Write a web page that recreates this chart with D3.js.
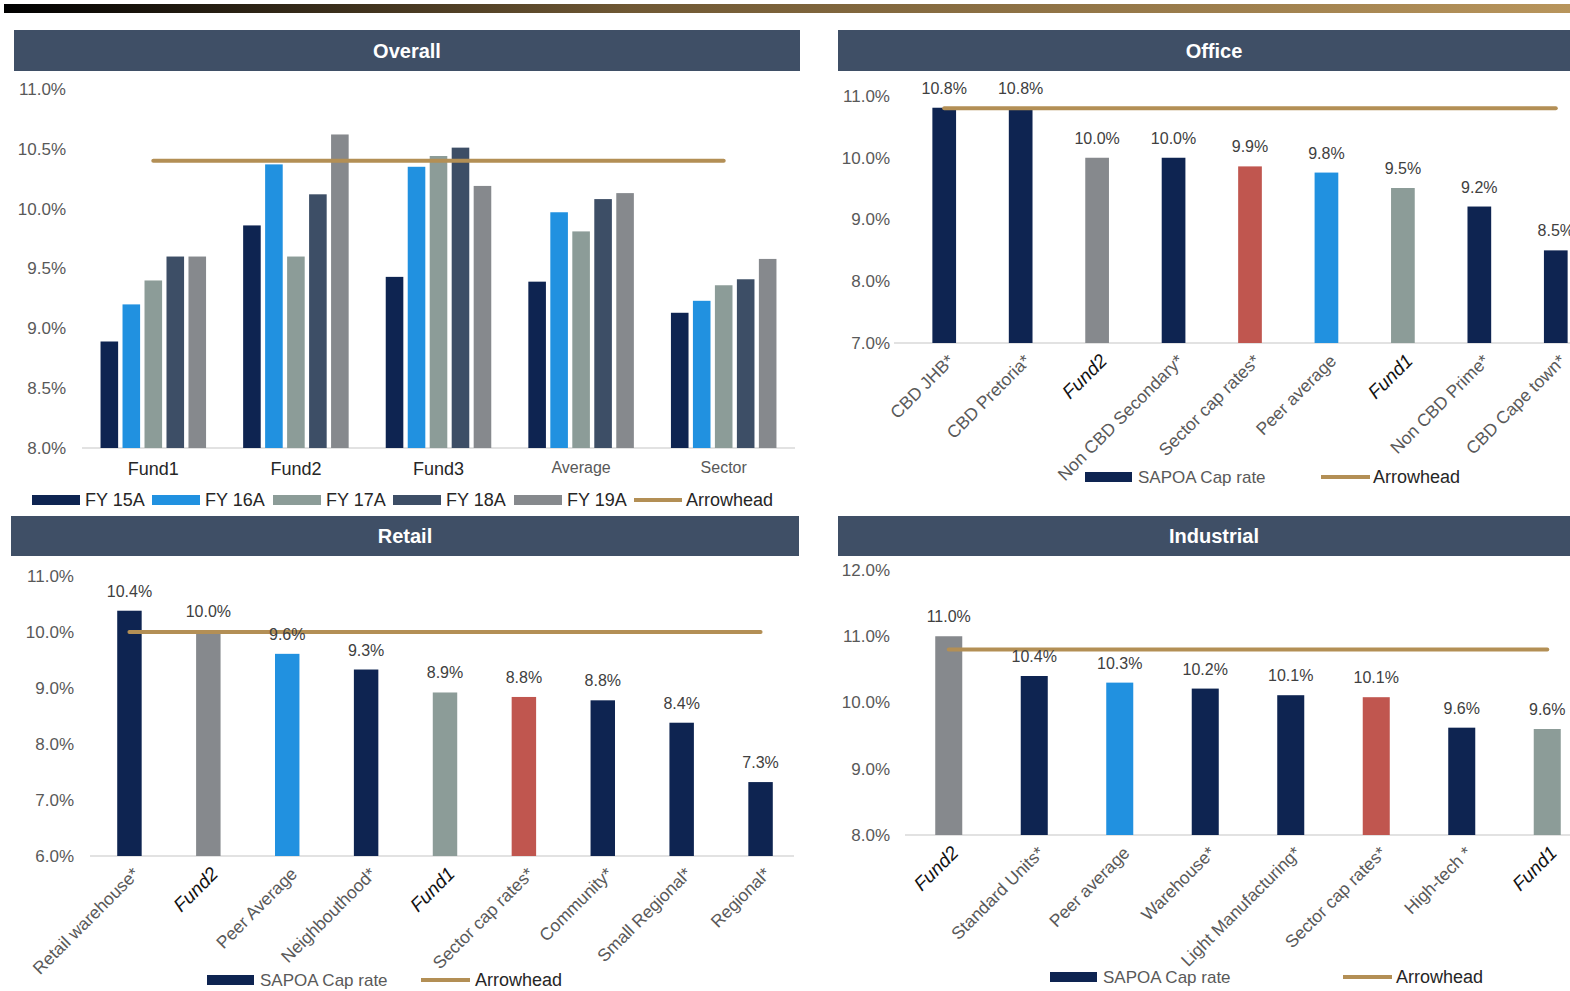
<!DOCTYPE html>
<html>
<head>
<meta charset="utf-8">
<script src="https://cdn.jsdelivr.net/npm/d3@7"></script>
<style>
  body { margin: 0; background: #fff; }
  svg { display: block; font-family: 'Liberation Sans', Arial, sans-serif; }
</style>
</head>
<body>
<svg width="1570" height="991"></svg>
<script>
    // ---- data ----
    const overallCategories = ['Fund1', 'Fund2', 'Fund3', 'Average', 'Sector'];
    const overallSeries = ['FY 15A', 'FY 16A', 'FY 17A', 'FY 18A', 'FY 19A'];
    const fy15 = [8.89, 9.86, 9.43, 9.39, 9.13];
    const fy16 = [9.20, 10.37, 10.35, 9.97, 9.23];
    const fy17 = [9.40, 9.60, 10.44, 9.81, 9.36];
    const fy18 = [9.60, 10.12, 10.51, 10.08, 9.41];
    const fy19 = [9.60, 10.62, 10.19, 10.13, 9.58];
    const overallArrowhead = 10.4;
    const overallTicks = [8.0, 8.5, 9.0, 9.5, 10.0, 10.5, 11.0];

    const officeCategories = ['CBD JHB*', 'CBD Pretoria*', 'Fund2', 'Non CBD Secondary*', 'Sector cap rates*', 'Peer average', 'Fund1', 'Non CBD Prime*', 'CBD Cape town*'];
    const officeValues = [10.81, 10.80, 10.00, 10.00, 9.86, 9.76, 9.51, 9.21, 8.50];
    const officeArrowhead = 10.8;
    const officeTicks = [7, 8, 9, 10, 11];

    const retailCategories = ['Retail warehouse*', 'Fund2', 'Peer  Average', 'Neighbouthood*', 'Fund1', 'Sector cap rates*', 'Community*', 'Small Regional*', 'Regional*'];
    const retailValues = [10.38, 10.02, 9.61, 9.33, 8.92, 8.84, 8.78, 8.38, 7.32];
    const retailArrowhead = 10.0;
    const retailTicks = [6, 7, 8, 9, 10, 11];

    const industrialCategories = ['Fund2', 'Standard Units*', 'Peer average', 'Warehouse*', 'Light Manufacturing*', 'Sector cap rates*', 'High-tech *', 'Fund1'];
    const industrialValues = [11.0, 10.40, 10.30, 10.21, 10.11, 10.08, 9.62, 9.60];
    const industrialArrowhead = 10.8;
    const industrialTicks = [8, 9, 10, 11, 12];

    // ---- styles ----
    const seriesColors = ['#0e2451', '#2191e0', '#8c9c98', '#3d4e66', '#86898d'];
    const gold = '#b38f55';
    const headerFill = '#3f4f66';
    const textGrey = '#595959';

    function barColor(name) {
      if (name === 'Fund2') return '#86898d';
      if (name === 'Fund1') return '#8c9c98';
      if (name.toLowerCase().indexOf('peer') === 0) return '#2191e0';
      if (name.indexOf('Sector cap') === 0) return '#c0564f';
      return '#0e2451';
    }
    const isFund = name => name.indexOf('Fund') === 0;
    const pct = v => v.toFixed(1) + '%';

    const svg = d3.select('svg');

    // top gradient bar
    const grad = svg.append('defs').append('linearGradient').attr('id', 'topbar');
    grad.append('stop').attr('offset', '0%').attr('stop-color', '#000000');
    grad.append('stop').attr('offset', '40%').attr('stop-color', '#6f5834');
    grad.append('stop').attr('offset', '100%').attr('stop-color', '#b8955c');
    svg.append('rect')
      .attr('x', 4).attr('y', 4)
      .attr('width', 1566).attr('height', 9)
      .attr('fill', 'url(#topbar)');

    // panel headers
    function header(x, y, w, h, label) {
      svg.append('rect')
        .attr('x', x).attr('y', y)
        .attr('width', w).attr('height', h)
        .attr('fill', headerFill);
      svg.append('text')
        .attr('x', x + w / 2).attr('y', y + h / 2)
        .attr('dy', '0.35em')
        .attr('text-anchor', 'middle')
        .attr('fill', '#fff')
        .attr('font-size', 20)
        .attr('font-weight', 'bold')
        .text(label);
    }
    header(14, 30, 786, 41, 'Overall');
    header(838, 30, 752, 41, 'Office');
    header(11, 516, 788, 40, 'Retail');
    header(838, 516, 752, 40, 'Industrial');

    function yAxis(yScale, x, ticks) {
      const g = svg.append('g')
        .attr('transform', 'translate(' + x + ',0)')
        .call(d3.axisLeft(yScale).tickValues(ticks).tickSize(0).tickPadding(16).tickFormat(pct));
      g.select('.domain').remove();
      g.selectAll('text')
        .attr('font-size', 17)
        .attr('fill', textGrey)
        .attr('font-family', 'Liberation Sans, Arial, sans-serif');
    }

    function legend(x, y, lineX, lineLabelX) {
      const g = svg.append('g').attr('font-size', 18).attr('fill', '#262626');
      g.append('rect').attr('x', x).attr('y', y - 5).attr('width', 47).attr('height', 10).attr('fill', '#0e2451');
      g.append('text').attr('x', x + 53).attr('y', y).attr('dy', '0.35em').attr('font-size', 17).attr('fill', textGrey).text('SAPOA Cap rate');
      g.append('line').attr('x1', lineX).attr('x2', lineX + 49).attr('y1', y).attr('y2', y)
        .attr('stroke', gold).attr('stroke-width', 4);
      g.append('text').attr('x', lineLabelX).attr('y', y).attr('dy', '0.35em').text('Arrowhead');
    }

    // ---- single series panels ----
    function barPanel(opts) {
      const x = d3.scaleBand()
        .domain(opts.categories)
        .range(opts.xRange)
        .paddingInner(opts.pad)
        .paddingOuter(opts.pad / 2);
      const y = d3.scaleLinear()
        .domain(d3.extent(opts.ticks))
        .range(opts.yRange);

      yAxis(y, opts.xRange[0], opts.ticks);

      // baseline
      svg.append('line')
        .attr('x1', opts.baseline[0]).attr('x2', opts.baseline[1])
        .attr('y1', y(opts.ticks[0])).attr('y2', y(opts.ticks[0]))
        .attr('stroke', '#d9d9d9').attr('stroke-width', 1.5);

      const data = opts.categories.map((c, i) => ({ name: c, value: opts.values[i] }));

      svg.append('g').selectAll('rect')
        .data(data).enter().append('rect')
        .attr('x', d => x(d.name))
        .attr('y', d => y(d.value))
        .attr('width', x.bandwidth())
        .attr('height', d => y(opts.ticks[0]) - y(d.value))
        .attr('fill', d => barColor(d.name));

      // arrowhead line
      svg.append('line')
        .attr('x1', x(opts.categories[0]) + x.bandwidth() / 2)
        .attr('x2', x(opts.categories[opts.categories.length - 1]) + x.bandwidth() / 2)
        .attr('y1', y(opts.arrowhead)).attr('y2', y(opts.arrowhead))
        .attr('stroke', gold).attr('stroke-width', 4).attr('stroke-linecap', 'round');

      // value labels
      svg.append('g').selectAll('text')
        .data(data).enter().append('text')
        .attr('x', d => x(d.name) + x.bandwidth() / 2)
        .attr('y', d => y(d.value) - 14)
        .attr('text-anchor', 'middle')
        .attr('font-size', 16)
        .attr('fill', '#404040')
        .text(d => pct(d.value));

      // rotated category labels
      const ax = svg.append('g')
        .attr('transform', 'translate(0,' + y(opts.ticks[0]) + ')')
        .call(d3.axisBottom(x).tickSize(0));
      ax.select('.domain').remove();
      ax.selectAll('text')
        .attr('font-family', 'Liberation Sans, Arial, sans-serif')
        .attr('text-anchor', 'end')
        .attr('dy', 0)
        .attr('y', 0)
        .attr('transform', 'translate(11,19) rotate(-45)')
        .attr('font-size', d => isFund(d) ? 19 : 17.5)
        .attr('font-style', d => isFund(d) ? 'italic' : 'normal')
        .attr('fill', d => isFund(d) ? '#111' : textGrey);
    }

    barPanel({
      categories: officeCategories, values: officeValues, arrowhead: officeArrowhead, ticks: officeTicks,
      xRange: [906, 1594], yRange: [343, 96], pad: 0.69, baseline: [894, 1570]
    });
    legend(1085, 477, 1321, 1373);

    barPanel({
      categories: retailCategories, values: retailValues, arrowhead: retailArrowhead, ticks: retailTicks,
      xRange: [90, 800], yRange: [856, 576], pad: 0.69, baseline: [90, 794]
    });
    legend(207, 980, 421, 475);

    barPanel({
      categories: industrialCategories, values: industrialValues, arrowhead: industrialArrowhead, ticks: industrialTicks,
      xRange: [906, 1590], yRange: [835, 570], pad: 0.684, baseline: [905, 1570]
    });
    legend(1050, 977, 1343, 1396);

    // ---- overall grouped panel ----
    const overallValues = [fy15, fy16, fy17, fy18, fy19];
    const x0 = d3.scaleBand()
      .domain(overallCategories)
      .range([82, 795])
      .paddingInner(0.26)
      .paddingOuter(0.13);
    const x1 = d3.scaleBand()
      .domain(overallSeries)
      .range([0, x0.bandwidth()])
      .paddingInner(0.2);
    const yO = d3.scaleLinear().domain([8, 11]).range([448, 89]);

    yAxis(yO, 82, overallTicks);
    svg.append('line')
      .attr('x1', 82).attr('x2', 795)
      .attr('y1', yO(8)).attr('y2', yO(8))
      .attr('stroke', '#d9d9d9').attr('stroke-width', 1.5);

    const groups = svg.append('g').selectAll('g')
      .data(overallCategories).enter().append('g')
      .attr('transform', d => 'translate(' + x0(d) + ',0)');
    groups.selectAll('rect')
      .data((d, ci) => overallSeries.map((s, si) => ({ series: s, si: si, value: overallValues[si][ci] })))
      .enter().append('rect')
      .attr('x', d => x1(d.series))
      .attr('y', d => yO(d.value))
      .attr('width', x1.bandwidth())
      .attr('height', d => yO(8) - yO(d.value))
      .attr('fill', d => seriesColors[d.si]);

    svg.append('line')
      .attr('x1', x0(overallCategories[0]) + x0.bandwidth() / 2)
      .attr('x2', x0(overallCategories[overallCategories.length - 1]) + x0.bandwidth() / 2)
      .attr('y1', yO(overallArrowhead)).attr('y2', yO(overallArrowhead))
      .attr('stroke', gold).attr('stroke-width', 4).attr('stroke-linecap', 'round');

    const axO = svg.append('g')
      .attr('transform', 'translate(0,' + yO(8) + ')')
      .call(d3.axisBottom(x0).tickSize(0).tickPadding(14));
    axO.select('.domain').remove();
    axO.selectAll('text')
      .attr('font-family', 'Liberation Sans, Arial, sans-serif')
      .attr('font-size', d => isFund(d) ? 18 : 16)
      .attr('fill', d => isFund(d) ? '#262626' : textGrey);

    // overall legend
    const legItems = overallSeries.map((s, i) => ({ label: s, color: seriesColors[i] }));
    const legX = [32, 152, 273, 393, 514];
    const legO = svg.append('g').attr('font-size', 18).attr('fill', '#262626');
    legItems.forEach((d, i) => {
      legO.append('rect').attr('x', legX[i]).attr('y', 495).attr('width', 48).attr('height', 10).attr('fill', d.color);
      legO.append('text').attr('x', legX[i] + 53).attr('y', 500).attr('dy', '0.35em').text(d.label);
    });
    legO.append('line').attr('x1', 634).attr('x2', 682).attr('y1', 500).attr('y2', 500)
      .attr('stroke', gold).attr('stroke-width', 4);
    legO.append('text').attr('x', 686).attr('y', 500).attr('dy', '0.35em').text('Arrowhead');
</script>
</body>
</html>
